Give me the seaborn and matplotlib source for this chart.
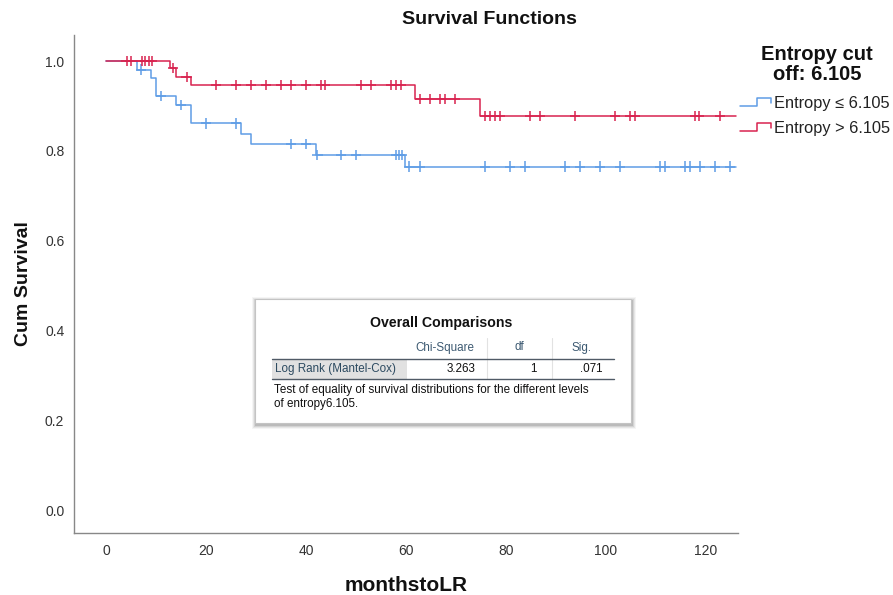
import numpy as np
import pandas as pd
import matplotlib
matplotlib.use("Agg")
import matplotlib.pyplot as plt
import seaborn as sns
from matplotlib.lines import Line2D
from matplotlib.legend_handler import HandlerBase
from matplotlib.patches import Rectangle

# ---------------- data ----------------
groups = ["Entropy \u2264 6.105", "Entropy > 6.105"]
colors = ["#5f9de6", "#d8234f"]
end_time = 126.1

low_event_times = [6.1, 9.0, 10.0, 14.0, 17.0, 27.0, 29.0, 42.0, 59.8]
low_event_surv = [0.981, 0.963, 0.922, 0.902, 0.861, 0.837, 0.816, 0.791, 0.765]
low_censor_times = [7.0, 11.0, 15.0, 20.0, 26.0, 37.0, 40.0, 42.3, 47.0, 50.0,
                    58.0, 58.6, 59.2, 60.7, 62.8, 75.8, 80.8, 83.8, 91.8, 94.8,
                    98.8, 102.8, 110.8, 111.8, 115.8, 116.8, 118.8, 121.8, 124.8]

high_event_times = [12.8, 14.0, 17.0, 61.8, 74.8]
high_event_surv = [0.984, 0.965, 0.946, 0.915, 0.878]
high_censor_times = [4.1, 4.9, 7.1, 7.8, 8.5, 9.2, 13.4, 16.1, 22.0, 26.0, 29.0,
                     32.0, 35.0, 37.0, 40.0, 43.0, 43.8, 51.0, 53.0, 57.0, 58.0,
                     59.0, 62.8, 64.8, 66.8, 67.8, 69.8, 75.8, 76.8, 77.8, 78.8,
                     84.8, 86.8, 93.8, 101.8, 104.8, 105.8, 117.8, 118.6, 122.8]

legend_title = ["Entropy cut", "off: 6.105"]
chart_title = "Survival Functions"
x_label = "monthstoLR"
y_label = "Cum Survival"
x_ticks = [0, 20, 40, 60, 80, 100, 120]
y_ticks = [0.0, 0.2, 0.4, 0.6, 0.8, 1.0]

table_title = "Overall Comparisons"
table_cols = ["Chi-Square", "df", "Sig."]
table_row = "Log Rank (Mantel-Cox)"
table_vals = ["3.263", "1", ".071"]
table_note = ["Test of equality of survival distributions for the different levels",
              "of entropy6.105."]

# ---------------- build frames ----------------
def step_frame(times, surv, name):
    t = [0.0] + list(times) + [end_time]
    s = [1.0] + list(surv) + [surv[-1]]
    return pd.DataFrame({"time": t, "surv": s, "group": name})

def censor_frame(ctimes, etimes, esurv, name):
    levels = np.concatenate([[1.0], esurv])
    idx = np.searchsorted(np.asarray(etimes), np.asarray(ctimes), side="right")
    return pd.DataFrame({"time": ctimes, "surv": levels[idx], "group": name})

steps = pd.concat([step_frame(low_event_times, low_event_surv, groups[0]),
                   step_frame(high_event_times, high_event_surv, groups[1])],
                  ignore_index=True)
cens = pd.concat([censor_frame(low_censor_times, low_event_times, low_event_surv, groups[0]),
                  censor_frame(high_censor_times, high_event_times, high_event_surv, groups[1])],
                 ignore_index=True)
palette = dict(zip(groups, colors))

# ---------------- figure ----------------
sns.set_theme(style="white")
plt.rcParams["font.family"] = ["Liberation Sans", "DejaVu Sans"]

W, H = 893, 595
fig = plt.figure(figsize=(W / 100, H / 100), dpi=100)

def fx(x):
    return x / W

def fy(y):
    return 1 - y / H

ax = fig.add_axes([fx(74), fy(533), fx(738) - fx(74), fy(35) - fy(533)])

sns.lineplot(data=steps, x="time", y="surv", hue="group", palette=palette,
             estimator=None, drawstyle="steps-post", linewidth=1.1,
             legend=False, ax=ax)
sns.scatterplot(data=cens, x="time", y="surv", hue="group", palette=palette,
                marker="+", s=55, linewidth=1.1, legend=False, ax=ax, zorder=3)

ax.set_xlim(-6.4, 126.4)
ax.set_ylim(-0.0506, 1.058)
ax.set_xticks(x_ticks)
ax.set_yticks(y_ticks)
ax.set_yticklabels([f"{v:.1f}" for v in y_ticks])
ax.tick_params(axis="both", length=0, labelsize=10, labelcolor="#333333")
ax.tick_params(axis="y", pad=7)
ax.tick_params(axis="x", pad=8)
for side in ["top", "right"]:
    ax.spines[side].set_visible(False)
for side in ["left", "bottom"]:
    ax.spines[side].set_color("#888888")
    ax.spines[side].set_linewidth(1.0)

ax.set_xlabel(x_label, fontsize=15, fontweight="bold", color="#111111", labelpad=13)
ax.set_ylabel(y_label, fontsize=14, fontweight="bold", color="#111111", labelpad=9)
fig.text(fx(489), fy(19), chart_title, ha="center", va="center",
         fontsize=14, fontweight="bold", color="#111111")

# ---------------- legend ----------------
class StepHandler(HandlerBase):
    def create_artists(self, legend, orig_handle, xdescent, ydescent,
                       width, height, fontsize, trans):
        x0, y0 = -xdescent, -ydescent
        xs = [x0, x0 + 0.55 * width, x0 + 0.55 * width, x0 + width, x0 + width]
        ys = [y0 + 0.15 * height, y0 + 0.15 * height, y0 + 0.85 * height,
              y0 + 0.85 * height, y0 + 0.45 * height]
        ln = Line2D(xs, ys, color=orig_handle.get_color(), linewidth=1.1,
                    transform=trans)
        return [ln]

fig.text(fx(817), fy(54.5), legend_title[0], ha="center", va="center",
         fontsize=14.5, fontweight="bold", color="#111111")
fig.text(fx(817), fy(74), legend_title[1], ha="center", va="center",
         fontsize=14.5, fontweight="bold", color="#111111")

handles = [Line2D([], [], color=c) for c in colors]
leg = fig.legend(handles, groups, loc="upper left",
                 bbox_to_anchor=(fx(740), fy(96)), frameon=False,
                 handler_map={Line2D: StepHandler()}, fontsize=11.8,
                 handlelength=1.9, handletextpad=0.2, labelspacing=0.6,
                 borderaxespad=0, borderpad=0)
for t in leg.get_texts():
    t.set_color("#222222")

# ---------------- comparison table ----------------
bx0, by0, bx1, by1 = 255, 299, 631, 423
for i, a in enumerate([0.04, 0.06, 0.08, 0.11]):
    d = 4 - i
    fig.patches.append(Rectangle((fx(bx0 - d + 1), fy(by1 + d + 2)),
                                 fx(bx1 - bx0 + 2 * d), (by1 - by0 + 2 * d) / H,
                                 transform=fig.transFigure, facecolor="#000000",
                                 edgecolor="none", alpha=a, zorder=5))
fig.patches.append(Rectangle((fx(bx0), fy(by1)), fx(bx1 - bx0), (by1 - by0) / H,
                             transform=fig.transFigure, facecolor="white",
                             edgecolor="#c4c4c4", linewidth=0.8, zorder=6))
fig.patches.append(Rectangle((fx(272), fy(379)), fx(407 - 272), 20 / H,
                             transform=fig.transFigure, facecolor="#e1e1e1",
                             edgecolor="none", zorder=7))
for xs in [486.5, 551.5]:
    fig.add_artist(Line2D([fx(xs), fx(xs)], [fy(338), fy(379)],
                          transform=fig.transFigure, color="#e2e2e2",
                          linewidth=0.8, zorder=7))
for ys in [359, 379]:
    fig.add_artist(Line2D([fx(272), fx(614)], [fy(ys), fy(ys)],
                          transform=fig.transFigure, color="#505a66",
                          linewidth=1.0, zorder=8))

fig.text(fx(441), fy(323), table_title, ha="center", va="center",
         fontsize=10.2, fontweight="bold", color="#111111", zorder=9)
for x, lab in zip([445, 519, 581], table_cols):
    fig.text(fx(x), fy(347.5), lab, ha="center", va="center", fontsize=8.4,
             color="#3d5a72", zorder=9)
fig.text(fx(275), fy(369), table_row, ha="left", va="center", fontsize=8.4,
         color="#2c4a60", zorder=9)
for x, v in zip([475, 537, 603], table_vals):
    fig.text(fx(x), fy(369), v, ha="right", va="center", fontsize=8.4,
             color="#111111", zorder=9)
for y, line in zip([389.5, 403.5], table_note):
    fig.text(fx(274), fy(y), line, ha="left", va="center", fontsize=8.4,
             color="#111111", zorder=9)

fig.savefig("out.png", dpi=100)
